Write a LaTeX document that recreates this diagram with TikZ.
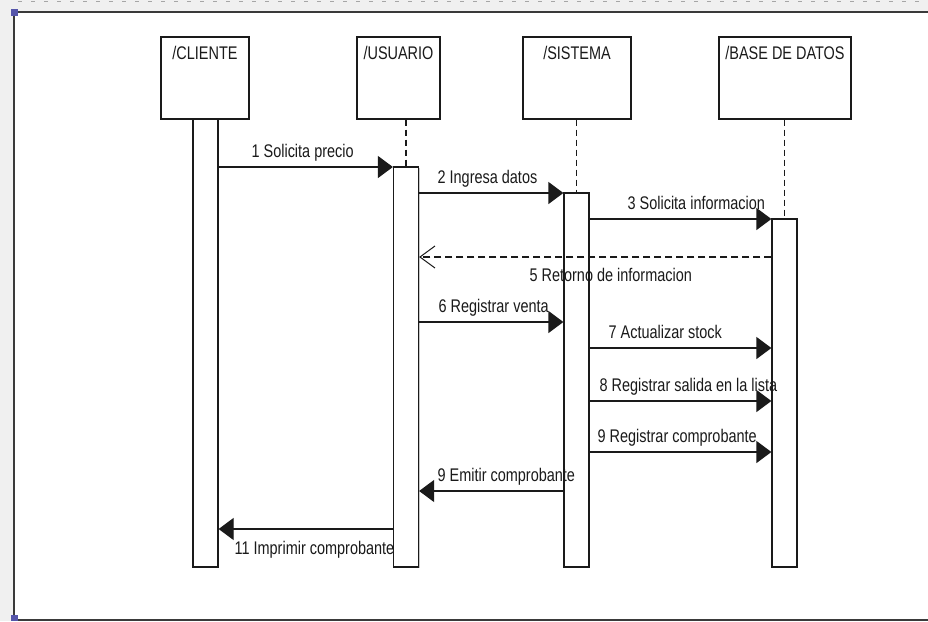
\documentclass[tikz,border=0pt]{standalone}
\usepackage{fontspec}
\setmainfont{Liberation Sans}[FakeStretch=0.79]
\usetikzlibrary{arrows.meta,shadows}
\definecolor{frameline}{HTML}{3A3A3A}
\definecolor{canvasgray}{HTML}{F0F0F0}
\definecolor{handle}{HTML}{5555AA}
\definecolor{ink}{HTML}{1A1A1A}
\begin{document}
\begin{tikzpicture}[x=1pt,y=-1pt,
  font=\fontsize{18.3}{20}\selectfont,
  every node/.style={text=ink},
  shade box/.style={drop shadow={shadow xshift=1.2pt,shadow yshift=-1.2pt,fill=black,opacity=0.22}},
  head/.style={draw=ink,line width=1.25pt,fill=white,shade box,minimum width=#1,minimum height=82pt,inner sep=0pt},
  activation/.style={draw=ink,line width=1.25pt,fill=white,shade box,minimum width=25pt,minimum height=#1,inner sep=0pt},
  headtext/.style={anchor=north,inner sep=0pt,yshift=-10pt},
  life/.style={draw=ink,line width=1.25pt,dash pattern=on 6pt off 4pt},
  msg/.style={draw=ink,line width=1.25pt,-{Triangle[length=15pt,width=22pt]}},
  reply/.style={draw=ink,line width=1.2pt,dash pattern=on 7pt off 4pt,-{Straight Barb[length=15pt,width=22pt,line width=1pt]}},
  lbl/.style={anchor=base west,inner sep=0pt}]

\useasboundingbox (0,0) rectangle (928,621);

% editor canvas with rulers
\fill[canvasgray] (0,0) rectangle (928,621);
\fill[white] (14,12) rectangle (928,620);
\draw[black!35,line width=1pt,dash pattern=on 4pt off 9pt] (18,1.5) -- (928,1.5);
\draw[frameline,line width=1.8pt] (928,12) -- (14,12) -- (14,620) -- (928,620);
\fill[handle] (10.5,8.5) rectangle (17.5,15.5);
\fill[handle] (10.5,615) rectangle (17.5,621);

% participant heads
\node[head=88pt,label={[headtext]north:/CLIENTE}] (cli) at (205,78) {};
\node[head=83pt,label={[headtext]north:/USUARIO}] (usr) at (398.5,78) {};
\node[head=108pt,label={[headtext]north:/SISTEMA}] (sis) at (577,78) {};
\node[head=132pt,label={[headtext]north:/BASE DE DATOS}] (bd) at (785,78) {};

% activation bars
\node[activation=448pt] (cliAct) at (205.5,343) {};
\node[activation=400pt] (usrAct) at (406,367) {};
\node[activation=374pt] (sisAct) at (576.5,380) {};
\node[activation=348pt] (bdAct) at (784.5,393) {};

% lifelines
\draw[life] (usrAct.north |- usr.south) -- (usrAct.north);
\draw[life] (sisAct.north |- sis.south) -- (sisAct.north);
\draw[life] (bdAct.north |- bd.south) -- (bdAct.north);

% messages
\draw[msg] (cliAct.east |- 0,167) -- (usrAct.west |- 0,167)
  node[lbl] at (251,157.5) {1 Solicita precio};
\draw[msg] (usrAct.east |- 0,193) -- (sisAct.west |- 0,193)
  node[lbl] at (437,183.5) {2 Ingresa datos};
\draw[msg] (sisAct.east |- 0,219) -- (bdAct.west |- 0,219)
  node[lbl] at (627,209.5) {3 Solicita informacion};
\draw[reply] (bdAct.west |- 0,257) -- (usrAct.east |- 0,257)
  node[lbl] at (529,281) {5 Retorno de informacion};
\draw[msg] (usrAct.east |- 0,322) -- (sisAct.west |- 0,322)
  node[lbl] at (438,312.5) {6 Registrar venta};
\draw[msg] (sisAct.east |- 0,348) -- (bdAct.west |- 0,348)
  node[lbl] at (608,338.5) {7 Actualizar stock};
\draw[msg] (sisAct.east |- 0,401) -- (bdAct.west |- 0,401)
  node[lbl] at (599,391.5) {8 Registrar salida en la lista};
\draw[msg] (sisAct.east |- 0,452) -- (bdAct.west |- 0,452)
  node[lbl] at (597,442.5) {9 Registrar comprobante};
\draw[msg] (sisAct.west |- 0,491) -- (usrAct.east |- 0,491)
  node[lbl] at (437,481.5) {9 Emitir comprobante};
\draw[msg] (usrAct.west |- 0,529) -- (cliAct.east |- 0,529)
  node[lbl] at (234,554) {11 Imprimir comprobante};

\end{tikzpicture}
\end{document}
